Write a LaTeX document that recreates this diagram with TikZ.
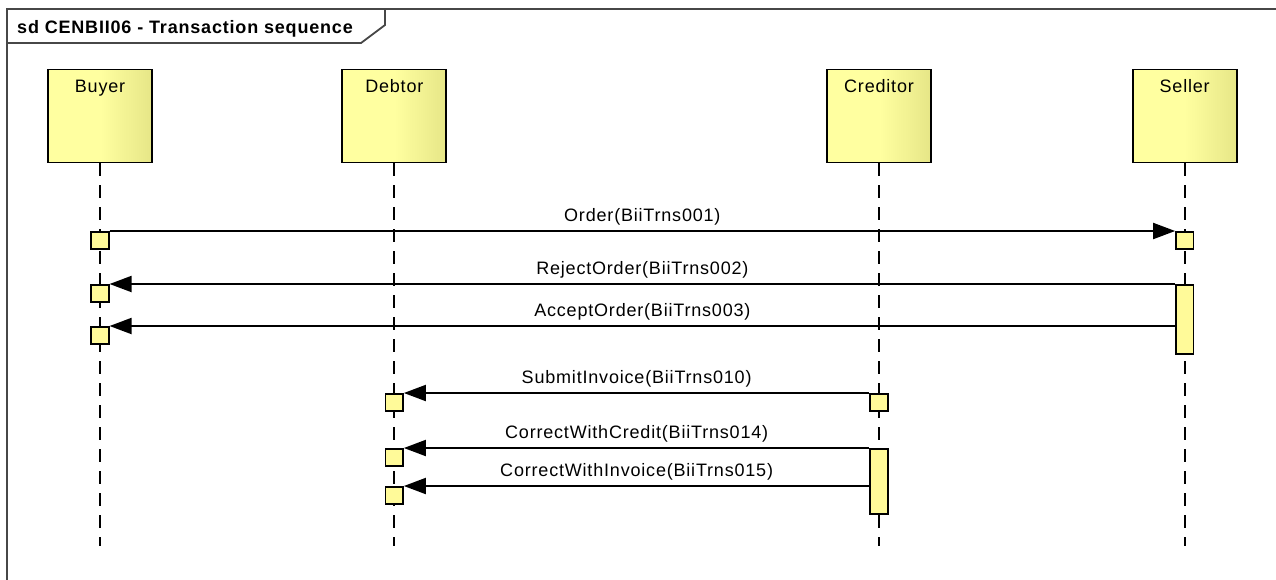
\documentclass[tikz,border=0pt]{standalone}
\usepackage{fontspec}
\setmainfont{Liberation Sans}
\newfontfamily\umlfont{Liberation Sans}[LetterSpace=4.5]
\usetikzlibrary{arrows.meta}
\definecolor{headleft}{RGB}{255,255,160}
\definecolor{headright}{RGB}{230,230,135}
\colorlet{actfill}{yellow!40}
\colorlet{framegray}{black!72}
\newcommand{\umlsize}{\fontsize{18}{20}\selectfont}
\newcommand{\lifelen}{383}
\tikzset{
  >={Triangle[length=22pt,width=16pt]},
  head/.style={draw, line width=1.8pt, minimum width=104pt, minimum height=93pt,
    inner sep=0pt, left color=headleft, right color=headright, middle color=headleft,
    label={[font=\umlfont\umlsize, inner sep=0pt, anchor=base, yshift=-24pt]north:#1}},
  lifeline/.style={line width=1.9pt, dash pattern=on 13pt off 9pt},
  act/.style={draw, line width=1.6pt, fill=actfill, minimum width=17.5pt,
    minimum height=#1, inner sep=0pt, anchor=north},
  act/.default=17pt,
  msg/.style={line width=1.9pt, ->},
  msglabel/.style={midway, anchor=base, yshift=9.5pt, inner sep=0pt, font=\umlfont\umlsize},
  frame/.style={draw=framegray, line width=1.8pt}
}

\begin{document}
\begin{tikzpicture}[x=1pt,y=-1pt]
  \path[use as bounding box] (0,0) rectangle (1276,579);
  \clip (0,0) rectangle (1276,579);
  % frame and its tab
  \draw[frame] (7,620) -- (7,9) -- (1300,9);
  \draw[frame] (7,43) -- (361,43) -- (385,25) -- (385,9);
  \node[anchor=base west, inner sep=0pt, font=\umlfont\umlsize\bfseries] (title) at (17,33.3)
    {sd CENBII06 - Transaction sequence};
  % lifelines
  \node[head=Buyer] (buyer) at (100,116) {};
  \node[head=Debtor] (debtor) at (394.3,116) {};
  \node[head=Creditor] (creditor) at (879,116) {};
  \node[head=Seller] (seller) at (1184.7,116) {};
  \foreach \l in {buyer,debtor,creditor,seller}
    \draw[lifeline] (\l.south) -- ++(0,\lifelen);
  % activations
  \node[act] (b1) at (100,231) {};
  \node[act] (s1) at (1184.7,231) {};
  \node[act] (b2) at (100,284) {};
  \node[act=69pt] (sbar) at (1184.7,284) {};
  \node[act] (b3) at (100,326) {};
  \node[act] (d1) at (394.3,393) {};
  \node[act] (c1) at (879,393) {};
  \node[act] (d2) at (394.3,448) {};
  \node[act=65pt] (cbar) at (879,448) {};
  \node[act] (d3) at (394.3,486) {};
  % messages
  \draw[msg] (b1.north east) -- (s1.north west) node[msglabel] {Order(BiiTrns001)};
  \draw[msg] (sbar.north west) -- (b2.north east) node[msglabel] {RejectOrder(BiiTrns002)};
  \draw[msg] (sbar.west |- b3.north) -- (b3.north east) node[msglabel] {AcceptOrder(BiiTrns003)};
  \draw[msg] (c1.north west) -- (d1.north east) node[msglabel] {SubmitInvoice(BiiTrns010)};
  \draw[msg] (cbar.north west) -- (d2.north east) node[msglabel] {CorrectWithCredit(BiiTrns014)};
  \draw[msg] (cbar.west |- d3.north) -- (d3.north east) node[msglabel] {CorrectWithInvoice(BiiTrns015)};
\end{tikzpicture}
\end{document}
